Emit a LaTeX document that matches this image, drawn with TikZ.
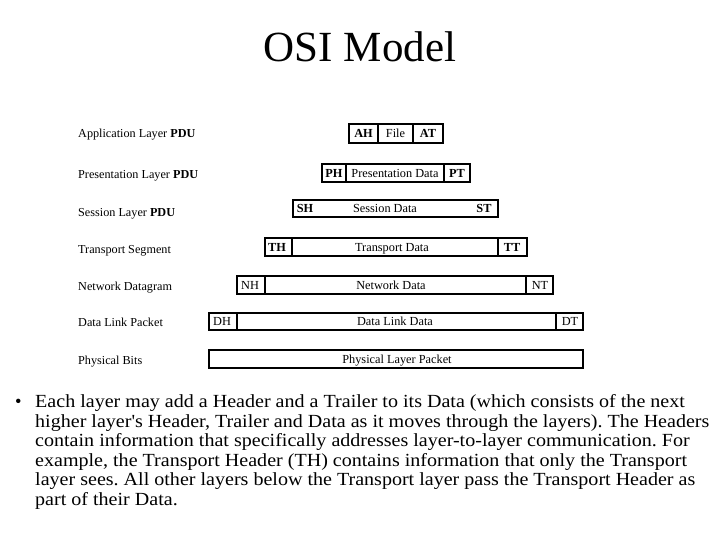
\documentclass[tikz,border=0pt]{standalone}
\usepackage{fontspec}
\setmainfont{Liberation Serif}
\begin{document}
\begin{tikzpicture}[x=1pt,y=-1pt,
  cell/.style={font=\fontsize{12.3}{14}\selectfont,inner sep=0pt,text height=9.4pt,text depth=1pt},
  lbl/.style={font=\fontsize{12.2}{14}\selectfont,anchor=west,inner sep=0pt,text height=9.4pt,text depth=1pt},
  sep/.style={line width=1.2pt},
  frame/.style={line width=2pt}]
\useasboundingbox (0,0) rectangle (720,540);
\node (title) at (360,47) {\fontsize{43}{50}\selectfont OSI Model};
% labels
\node[lbl] (l1) at (78,133) {Application Layer \textbf{PDU}};
\node[lbl] (l2) at (78,174) {Presentation Layer \textbf{PDU}};
\node[lbl] (l3) at (78,212) {Session Layer \textbf{PDU}};
\node[lbl] (l4) at (78,249) {Transport Segment};
\node[lbl] (l5) at (78,286) {Network Datagram};
\node[lbl] (l6) at (78,322) {Data Link Packet};
\node[lbl] (l7) at (78,360) {Physical Bits};
% row 1
\draw[frame] (349,124) rectangle (443,143);
\draw[sep] (378,124) -- (378,143);
\draw[sep] (413,124) -- (413,143);
\node[cell] (ah) at (363.5,133.5) {\textbf{AH}};
\node[cell] (file) at (395.5,133.5) {File};
\node[cell] (at) at (428,133.5) {\textbf{AT}};
% row 2
\draw[frame] (322,164) rectangle (470,182);
\draw[sep] (346,164) -- (346,182);
\draw[sep] (444,164) -- (444,182);
\node[cell] (ph) at (334,173) {\textbf{PH}};
\node[cell] (pd) at (395,173) {Presentation Data};
\node[cell] (pt) at (457,173) {\textbf{PT}};
% row 3
\draw[frame] (293,200) rectangle (498,217);
\node[cell] (sh) at (305,208.5) {\textbf{SH}};
\node[cell] (sd) at (385,208.5) {Session Data};
\node[cell] (st) at (484,208.5) {\textbf{ST}};
% row 4
\draw[frame] (265,238) rectangle (527,256);
\draw[sep] (292,238) -- (292,256);
\draw[sep] (498,238) -- (498,256);
\node[cell] (th) at (277,247) {\textbf{TH}};
\node[cell] (td) at (392,247) {Transport Data};
\node[cell] (tt) at (512,247) {\textbf{TT}};
% row 5
\draw[frame] (237,276) rectangle (553,294);
\draw[sep] (265,276) -- (265,294);
\draw[sep] (526,276) -- (526,294);
\node[cell] (nh) at (250,285) {NH};
\node[cell] (nd) at (391,285) {Network Data};
\node[cell] (nt) at (540,285) {NT};
% row 6
\draw[frame] (209,313) rectangle (583,330);
\draw[sep] (237,313) -- (237,330);
\draw[sep] (556,313) -- (556,330);
\node[cell] (dh) at (222,321.5) {DH};
\node[cell] (dd) at (395,321.5) {Data Link Data};
\node[cell] (dt) at (570,321.5) {DT};
% row 7
\draw[frame] (209,350) rectangle (583,368);
\node[cell] (pp) at (397,359) {Physical Layer Packet};
% bullet
\node[anchor=west,inner sep=0pt] (bul) at (15,403) {\fontsize{18.5}{19.5}\selectfont •};
\node[anchor=north west,inner sep=0pt] (txt) at (35,394) {\scalebox{1.084}[1]{\fontsize{18.5}{19.5}\selectfont\frenchspacing\begin{tabular}{@{}l@{}}Each layer may add a Header and a Trailer to its Data (which consists of the next\\
higher layer\textquotesingle s Header, Trailer and Data as it moves through the layers). The Headers\\
contain information that specifically addresses layer-to-layer communication. For\\
example, the Transport Header (TH) contains information that only the Transport\\
layer sees. All other layers below the Transport layer pass the Transport Header as\\
part of their Data.\end{tabular}}};
\end{tikzpicture}
\end{document}
